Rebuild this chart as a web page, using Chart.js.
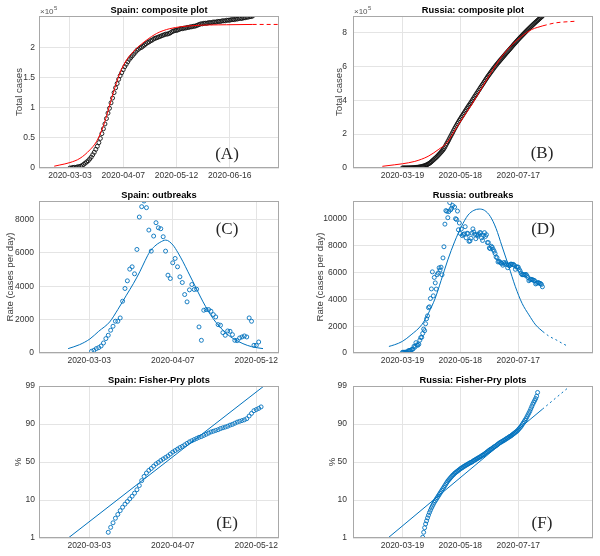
<!DOCTYPE html>
<html>
<head>
<meta charset="utf-8">
<script src="https://cdn.jsdelivr.net/npm/chart.js@4.4.1/dist/chart.umd.min.js"></script>
<style>
  body { margin: 0; background: #fff; }
  #wrap { position: relative; width: 600px; height: 556px; overflow: hidden; }
  canvas { position: absolute; }
</style>
</head>
<body>
<div id="wrap">
  <canvas id="pa" width="300" height="185" style="left:0;top:0"></canvas>
  <canvas id="pb" width="300" height="185" style="left:300px;top:0"></canvas>
  <canvas id="pc" width="300" height="185" style="left:0;top:185px"></canvas>
  <canvas id="pd" width="300" height="185" style="left:300px;top:185px"></canvas>
  <canvas id="pe" width="300" height="186" style="left:0;top:370px"></canvas>
  <canvas id="pf" width="300" height="186" style="left:300px;top:370px"></canvas>
</div>
<script>
// x values are days: Spain counted from 2020-03-03, Russia from 2020-03-19
const spainTicks = [0, 35, 70, 105];
const spainTickLabels = ['2020-03-03', '2020-04-07', '2020-05-12', '2020-06-16'];
const russiaTicks = [0, 60, 120];
const russiaTickLabels = ['2020-03-19', '2020-05-18', '2020-07-17'];
const fpTicks = [-2, -1, 0, 1, 2];
const fpTickLabels = ['1', '10', '50', '90', '99'];

// (A) Spain total cases, x10^5, daily from day 0
const spainTotal = [
  0.00, 0.00, 0.01, 0.01, 0.01, 0.02, 0.02, 0.03, 0.04, 0.06,
  0.08, 0.10, 0.12, 0.15, 0.18, 0.22, 0.26, 0.31, 0.36, 0.42,
  0.49, 0.57, 0.65, 0.73, 0.82, 0.91, 0.99, 1.08, 1.16, 1.25,
  1.33, 1.40, 1.47, 1.53, 1.58, 1.63, 1.68, 1.72, 1.76, 1.80,
  1.83, 1.86, 1.89, 1.92, 1.95, 1.97, 1.99, 2.00, 2.02, 2.04,
  2.06, 2.08, 2.09, 2.11, 2.12, 2.14, 2.15, 2.16, 2.17, 2.18,
  2.19, 2.20, 2.21, 2.22, 2.22, 2.23, 2.24, 2.26, 2.27, 2.28,
  2.28, 2.29, 2.30, 2.31, 2.31, 2.32, 2.32, 2.33, 2.33, 2.34,
  2.34, 2.35, 2.35, 2.36, 2.37, 2.38, 2.39, 2.39, 2.40, 2.40,
  2.40, 2.41, 2.41, 2.41, 2.42, 2.42, 2.42, 2.43, 2.43, 2.43,
  2.44, 2.44, 2.44, 2.45, 2.45, 2.45, 2.46, 2.46, 2.46, 2.47,
  2.47, 2.48, 2.48, 2.48, 2.49, 2.49, 2.50, 2.50, 2.51, 2.51,
  2.52
];
const spainFitDays = [-10.3, -6.6, 0, 6.6, 13.1, 17.5, 21.9, 25.2, 28.4, 32.8, 37.2, 43.7, 50.3, 56.9, 65.6, 80.9, 102.8, 120];
const spainFitTotal = [0.03, 0.05, 0.09, 0.16, 0.30, 0.44, 0.69, 0.96, 1.24, 1.57, 1.79, 1.98, 2.12, 2.23, 2.31, 2.36, 2.375, 2.38];
const spainTailDays = [120, 137.3];
const spainTailTotal = [2.38, 2.38];

// (B) Russia total cases, x10^5, daily from day 0
const russiaTotal = [
  0.002, 0.003, 0.003, 0.004, 0.004, 0.005, 0.007, 0.008, 0.010, 0.013,
  0.015, 0.018, 0.023, 0.028, 0.035, 0.041, 0.047, 0.054, 0.063, 0.075,
  0.087, 0.101, 0.119, 0.136, 0.158, 0.183, 0.211, 0.245, 0.279, 0.320,
  0.368, 0.429, 0.471, 0.528, 0.580, 0.628, 0.686, 0.746, 0.809, 0.871,
  0.936, 0.994, 1.065, 1.144, 1.241, 1.347, 1.453, 1.554, 1.659, 1.772,
  1.879, 1.987, 2.097, 2.213, 2.322, 2.423, 2.522, 2.628, 2.720, 2.818,
  2.907, 3.000, 3.087, 3.176, 3.265, 3.359, 3.445, 3.535, 3.624, 3.707,
  3.791, 3.876, 3.966, 4.059, 4.149, 4.238, 4.323, 4.411, 4.499, 4.587,
  4.677, 4.767, 4.853, 4.937, 5.025, 5.114, 5.201, 5.290, 5.372, 5.455,
  5.533, 5.611, 5.691, 5.770, 5.847, 5.923, 5.997, 6.069, 6.140, 6.208,
  6.277, 6.345, 6.412, 6.479, 6.544, 6.612, 6.678, 6.746, 6.812, 6.875,
  6.941, 7.006, 7.072, 7.139, 7.205, 7.271, 7.336, 7.399, 7.463, 7.527,
  7.591, 7.654, 7.715, 7.774, 7.833, 7.891, 7.950, 8.008, 8.067, 8.124,
  8.181, 8.235, 8.289, 8.344, 8.399, 8.454, 8.508, 8.562, 8.614, 8.666,
  8.718, 8.770, 8.822, 8.874, 8.925, 8.975
];
const russiaFitDays = [-20.8, -8, 0, 12.8, 26.6, 37, 45.7, 52.6, 61.2, 71.6, 82, 92.4, 102.7, 113.1, 123.5, 133.9, 145.4];
const russiaFitTotal = [0.10, 0.19, 0.25, 0.39, 0.69, 1.08, 1.47, 2.06, 2.84, 3.73, 4.71, 5.69, 6.57, 7.26, 7.78, 8.18, 8.40];
const russiaTailDays = [145.4, 158.1, 178.9];
const russiaTailTotal = [8.40, 8.57, 8.67];

// (C) Spain new cases per day, daily from day 1
const spainRate = [
  102, 162, 262, 322, 420, 600, 862, 1062, 1362, 1602,
  1902, 1902, 2100, 3100, 3862, 4320, 5020, 5160, 4740, 6200,
  8140, 8760, 9100, 8700, 7360, 6100, 7000, 7800, 7500, 7440,
  6960, 6100, 4660, 4460, 5400, 5660, 5160, 4560, 4220, 3500,
  3060, 3780, 4100, 3800, 3820, 1560, 760, 2560, 2600, 2600,
  2500, 2300, 2160, 1700, 1660, 1220, 1060, 1320, 1300, 1100,
  760, 740, 900, 960, 1020, 960, 2100, 1900, 460, 460,
  660
];
const spainRateFitDays = [-8.8, -4, 0.3, 4, 8.6, 12, 15.6, 18.5, 21.2, 23.5, 25.4, 27.5, 29.6, 32.1, 35.1, 37.2, 39.3, 41.4, 43.5, 45.6, 47.7, 49.8, 51.9, 54.5, 57.5, 60.5, 64.4, 68, 72.8];
const spainRateFit = [262, 500, 840, 1300, 1860, 2600, 3460, 4150, 4860, 5550, 6060, 6400, 6620, 6760, 6460, 6000, 5460, 4860, 4260, 3650, 3060, 2530, 2060, 1600, 1160, 850, 560, 380, 262];

// (D) Russia new cases per day, daily from day 0
const russiaRate = [
  52, 53, 54, 57, 71, 57, 163, 182, 196, 228,
  270, 302, 501, 440, 771, 601, 582, 658, 954, 1154,
  1175, 1459, 1786, 1667, 2186, 2558, 2774, 3388, 3448, 4070,
  4785, 6060, 4268, 5642, 5236, 4774, 5849, 5966, 6361, 6198,
  6411, 5841, 7099, 7933, 9623, 10633, 10581, 10102, 10559, 11231,
  10699, 10817, 11012, 11656, 10899, 10028, 9974, 10598, 9200, 9709,
  8926, 9263, 8764, 8849, 8894, 9434, 8599, 8946, 8915, 8338,
  8371, 8572, 8952, 9268, 9035, 8863, 8536, 8831, 8726, 8855,
  8984, 8985, 8595, 8404, 8779, 8987, 8706, 8835, 8246, 8248,
  7843, 7790, 7972, 7889, 7728, 7600, 7425, 7176, 7113, 6800,
  6852, 6791, 6719, 6693, 6556, 6760, 6632, 6736, 6611, 6368,
  6562, 6509, 6635, 6632, 6611, 6615, 6537, 6248, 6422, 6428,
  6406, 6234, 6109, 5940, 5842, 5862, 5848, 5811, 5871, 5765,
  5635, 5395, 5475, 5509, 5482, 5462, 5427, 5394, 5159, 5204,
  5267, 5241, 5212, 5189, 5118, 4945
];
const russiaRateFitDays = [-14, -8, 0, 9, 20, 27, 34, 40, 47, 54, 61, 68, 74, 79.5, 85, 91, 97, 103, 110, 117, 124, 131, 138, 145.4];
const russiaRateFit = [490, 620, 870, 1360, 2110, 2980, 4100, 5400, 6950, 8300, 9430, 10300, 10650, 10750, 10650, 10200, 9300, 8000, 6500, 4950, 3700, 2850, 2100, 1600];
const russiaRateTailDays = [145.4, 152, 160, 166, 172];
const russiaRateTail = [1600, 1250, 950, 700, 490];

// (E) Spain Fisher-Pry, log10(f/(1-f)), daily from day 8
const spainFP = [
  -1.85, -1.72, -1.60, -1.48, -1.38, -1.28, -1.19, -1.11, -1.04, -0.97,
  -0.90, -0.82, -0.73, -0.62, -0.49, -0.38, -0.29, -0.22, -0.17, -0.11,
  -0.05, -0.01, 0.04, 0.08, 0.12, 0.16, 0.21, 0.26, 0.30, 0.34,
  0.38, 0.41, 0.45, 0.49, 0.53, 0.56, 0.59, 0.62, 0.65, 0.67,
  0.70, 0.73, 0.76, 0.79, 0.81, 0.83, 0.85, 0.88, 0.90, 0.92,
  0.94, 0.97, 0.99, 1.02, 1.05, 1.07, 1.09, 1.11, 1.14, 1.21,
  1.28, 1.35, 1.38, 1.41, 1.45
];
const spainFPLineDays = [-8.75, 73.2];
const spainFPLine = [-2, 2];

// (F) Russia Fisher-Pry, daily from day 21
const russiaFP = [
  -1.98, -1.85, -1.73, -1.63, -1.55, -1.47, -1.40, -1.33, -1.27, -1.21,
  -1.16, -1.11, -1.06, -1.02, -0.98, -0.94, -0.90, -0.86, -0.82, -0.78,
  -0.74, -0.70, -0.66, -0.62, -0.58, -0.54, -0.50, -0.47, -0.44, -0.41,
  -0.38, -0.35, -0.33, -0.30, -0.28, -0.26, -0.24, -0.22, -0.20, -0.18,
  -0.16, -0.15, -0.13, -0.11, -0.10, -0.08, -0.07, -0.05, -0.04, -0.02,
  -0.01, 0.00, 0.02, 0.04, 0.05, 0.07, 0.08, 0.10, 0.11, 0.13,
  0.14, 0.16, 0.18, 0.19, 0.21, 0.23, 0.25, 0.27, 0.29, 0.31,
  0.33, 0.34, 0.36, 0.38, 0.40, 0.41, 0.43, 0.45, 0.47, 0.49,
  0.51, 0.52, 0.54, 0.55, 0.57, 0.58, 0.60, 0.62, 0.63, 0.65,
  0.67, 0.68, 0.70, 0.72, 0.74, 0.76, 0.78, 0.80, 0.82, 0.85,
  0.88, 0.91, 0.94, 0.98, 1.02, 1.06, 1.10, 1.14, 1.19, 1.24,
  1.29, 1.34, 1.40, 1.46, 1.52, 1.57, 1.62, 1.67, 1.73, 1.83
];
const russiaFPLineDays = [-15, 145];
const russiaFPLine = [-2, 1.39];
const russiaFPTailDays = [145, 173.7];
const russiaFPTail = [1.39, 2];

const BLUE = '#0072BD';
const RED = '#FF0000';
const FONT = 'Liberation Sans';

function daily(start, vals) {
  return vals.map((v, i) => ({x: start + i, y: v}));
}
function pairs(xs, ys) {
  return xs.map((x, i) => ({x: x, y: ys[i]}));
}
function dots(data, color) {
  return {data: data, showLine: false, pointRadius: 2, pointBorderWidth: 0.9,
    pointBorderColor: color, pointBackgroundColor: 'rgba(0,0,0,0)'};
}
function curve(data, color, dash) {
  return {data: data, showLine: true, pointRadius: 0, borderColor: color, borderWidth: 1,
    borderDash: dash || [], cubicInterpolationMode: 'monotone'};
}

// box, title, panel letter and the x10^5 note
const decor = {
  id: 'decor',
  afterDraw(chart, args, o) {
    const ctx = chart.ctx;
    const a = chart.chartArea;
    ctx.save();
    ctx.strokeStyle = '#a8a8a8';
    ctx.lineWidth = 1;
    ctx.strokeRect(a.left + 0.5, a.top + 0.5, a.right - a.left - 1, a.bottom - a.top - 1);
    ctx.fillStyle = '#000';
    ctx.font = 'bold 9.3px "' + FONT + '"';
    ctx.textAlign = 'center';
    ctx.textBaseline = 'middle';
    ctx.fillText(o.title, (a.left + a.right) / 2, a.top - 6);
    ctx.fillStyle = '#262626';
    ctx.font = '17px "Liberation Serif"';
    ctx.fillText(o.letter, o.lx, o.ly);
    if (o.exp) {
      ctx.fillStyle = '#555';
      ctx.textAlign = 'left';
      ctx.textBaseline = 'alphabetic';
      ctx.font = '8px "' + FONT + '"';
      ctx.fillText('\u00d710', a.left + 1, a.top - 2);
      const w = ctx.measureText('\u00d710').width;
      ctx.font = '6px "' + FONT + '"';
      ctx.fillText(o.exp, a.left + 1.5 + w, a.top - 6);
    }
    ctx.restore();
  }
};

function axis(min, max, ticks, labels, fit, pad) {
  return {
    type: 'linear', min: min, max: max,
    afterBuildTicks: s => { s.ticks = ticks.map(v => ({value: v})); },
    afterFit: fit,
    border: {display: false},
    grid: {color: '#e4e4e4', lineWidth: 1, drawTicks: false},
    ticks: {callback: (v, i) => labels[i], color: '#333', padding: pad,
      autoSkip: false, maxRotation: 0, font: {family: FONT, size: 8.5}}
  };
}

function panel(id, o) {
  const y = axis(o.ymin, o.ymax, o.yticks, o.ylabels, s => { s.width = o.yw; }, o.ypad);
  y.title = {display: true, text: o.ytitle, color: '#404040',
    font: {family: FONT, size: 9.6}, padding: {top: o.tpad, bottom: 0}};
  new Chart(document.getElementById(id), {
    type: 'scatter',
    data: {datasets: o.datasets},
    options: {
      responsive: false,
      animation: false,
      events: [],
      layout: {padding: {left: 0, top: 16, right: o.right, bottom: 0}},
      plugins: {legend: {display: false}, tooltip: {enabled: false}, decor: o.decor},
      scales: {
        x: axis(o.xmin, o.xmax, o.xticks, o.xlabels, s => { s.height = o.xh; }, 3),
        y: y
      }
    },
    plugins: [decor]
  });
}

panel('pa', {
  datasets: [
    curve(pairs(spainFitDays, spainFitTotal), RED),
    curve(pairs(spainTailDays, spainTailTotal), RED, [4, 3]),
    dots(daily(0, spainTotal), '#111')
  ],
  xmin: -20.3, xmax: 137.3, xticks: spainTicks, xlabels: spainTickLabels, xh: 17,
  ymin: 0, ymax: 2.52, yticks: [0, 0.5, 1, 1.5, 2], ylabels: ['0', '0.5', '1', '1.5', '2'],
  yw: 39, ypad: 4, right: 21, ytitle: 'Total cases', tpad: 14,
  decor: {title: 'Spain: composite plot', letter: '(A)', lx: 227, ly: 155, exp: '5'}
});

panel('pb', {
  datasets: [
    curve(pairs(russiaFitDays, russiaFitTotal), RED),
    curve(pairs(russiaTailDays, russiaTailTotal), RED, [4, 3]),
    dots(daily(0, russiaTotal), '#111')
  ],
  xmin: -51.2, xmax: 197.4, xticks: russiaTicks, xlabels: russiaTickLabels, xh: 17,
  ymin: 0, ymax: 8.98, yticks: [0, 2, 4, 6, 8], ylabels: ['0', '2', '4', '6', '8'],
  yw: 53, ypad: 6, right: 7, ytitle: 'Total cases', tpad: 34,
  decor: {title: 'Russia: composite plot', letter: '(B)', lx: 242, ly: 154, exp: '5'}
});

panel('pc', {
  datasets: [
    curve(pairs(spainRateFitDays, spainRateFit), BLUE),
    dots(daily(1, spainRate), BLUE)
  ],
  xmin: -21, xmax: 79.5, xticks: spainTicks.slice(0, 3), xlabels: spainTickLabels.slice(0, 3), xh: 17,
  ymin: 0, ymax: 9100, yticks: [0, 2000, 4000, 6000, 8000], ylabels: ['0', '2000', '4000', '6000', '8000'],
  yw: 39, ypad: 5, right: 21, ytitle: 'Rate (cases per day)', tpad: 5,
  decor: {title: 'Spain: outbreaks', letter: '(C)', lx: 227, ly: 45}
});

panel('pd', {
  datasets: [
    curve(pairs(russiaRateFitDays, russiaRateFit), BLUE),
    curve(pairs(russiaRateTailDays, russiaRateTail), BLUE, [2, 3]),
    dots(daily(0, russiaRate), BLUE)
  ],
  xmin: -51.2, xmax: 197.4, xticks: russiaTicks, xlabels: russiaTickLabels, xh: 17,
  ymin: 0, ymax: 11350, yticks: [0, 2000, 4000, 6000, 8000, 10000],
  ylabels: ['0', '2000', '4000', '6000', '8000', '10000'],
  yw: 53, ypad: 6, right: 7, ytitle: 'Rate (cases per day)', tpad: 15,
  decor: {title: 'Russia: outbreaks', letter: '(D)', lx: 243, ly: 45}
});

panel('pe', {
  datasets: [
    curve(pairs(spainFPLineDays, spainFPLine), BLUE),
    dots(daily(8, spainFP), BLUE)
  ],
  xmin: -21, xmax: 79.5, xticks: spainTicks.slice(0, 3), xlabels: spainTickLabels.slice(0, 3), xh: 18,
  ymin: -2, ymax: 2, yticks: fpTicks, ylabels: fpTickLabels,
  yw: 39, ypad: 4, right: 21, ytitle: '%', tpad: 13,
  decor: {title: 'Spain: Fisher-Pry plots', letter: '(E)', lx: 227, ly: 154}
});

panel('pf', {
  datasets: [
    curve(pairs(russiaFPLineDays, russiaFPLine), BLUE),
    curve(pairs(russiaFPTailDays, russiaFPTail), BLUE, [2, 3]),
    dots(daily(21, russiaFP), BLUE)
  ],
  xmin: -51.2, xmax: 197.4, xticks: russiaTicks, xlabels: russiaTickLabels, xh: 18,
  ymin: -2, ymax: 2, yticks: fpTicks, ylabels: fpTickLabels,
  yw: 53, ypad: 6, right: 7, ytitle: '%', tpad: 27,
  decor: {title: 'Russia: Fisher-Pry plots', letter: '(F)', lx: 242, ly: 154}
});
</script>
</body>
</html>
